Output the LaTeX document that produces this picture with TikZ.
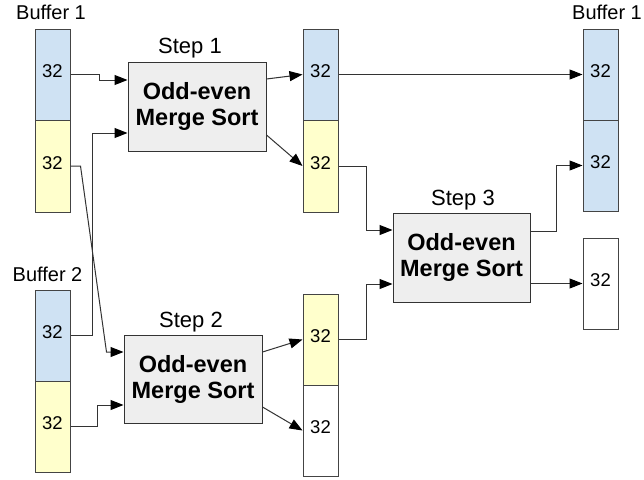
\documentclass[tikz,border=0pt]{standalone}
\usepackage{fontspec}
\setmainfont{Liberation Sans}
\usetikzlibrary{arrows.meta,calc}
\definecolor{cellblue}{HTML}{CFE2F3}
\definecolor{cellyellow}{HTML}{FFFFCC}
\definecolor{boxgray}{HTML}{EEEEEE}
\definecolor{edgegray}{HTML}{444444}
\definecolor{linegray}{HTML}{333333}
\begin{document}
\begin{tikzpicture}[x=1pt,y=-1pt,
  cell/.style={draw=edgegray,line width=1pt,minimum width=35pt,minimum height=91pt,
    inner sep=0pt,text depth=6pt,font=\fontsize{18.5}{21}\selectfont},
  bluecell/.style={cell,fill=cellblue},
  yellowcell/.style={cell,fill=cellyellow},
  whitecell/.style={cell,fill=white},
  sortbox/.style={draw=linegray,line width=1pt,fill=boxgray,minimum width=138pt,
    minimum height=89pt,inner sep=0pt,align=center,
    font=\fontsize{23.5}{26}\selectfont\bfseries},
  steplabel/.style={anchor=base,inner sep=0pt,font=\fontsize{22}{26}\selectfont},
  buflabel/.style={anchor=base,inner sep=0pt,font=\fontsize{20}{24}\selectfont},
  arr/.style={draw=linegray,line width=1pt,-{Triangle[length=13pt,width=10pt,color=black]}}
]
\useasboundingbox[fill=white] (0,0) rectangle (644,479);

% Buffer 1 (left)
\node[buflabel] (lb1) at (51,19) {Buffer 1};
\node[bluecell] (b1a) at (52.5,74.5) {32};
\node[yellowcell,minimum height=92pt] (b1b) at (52.5,166) {32};

% Buffer 2 (left)
\node[buflabel] (lb2) at (47.5,281) {Buffer 2};
\node[bluecell] (b2a) at (52.5,335.5) {32};
\node[yellowcell] (b2b) at (52.5,426.5) {32};

% Middle buffers
\node[bluecell] (m1a) at (320.5,74.5) {32};
\node[yellowcell,minimum height=92pt] (m1b) at (320.5,166) {32};
\node[yellowcell] (m2a) at (320.5,339.5) {32};
\node[whitecell] (m2b) at (320.5,430.5) {32};

% Right buffers
\node[buflabel] (lb3) at (607,19) {Buffer 1};
\node[bluecell] (r1a) at (600.5,74.5) {32};
\node[bluecell] (r1b) at (600.5,165.5) {32};
\node[whitecell] (r2) at (600.5,283.5) {32};

% Sort steps
\node[sortbox] (s1) at (197,106.5) {Odd-even\\Merge Sort};
\node[steplabel] (l1) at (190,53) {Step 1};
\node[sortbox,minimum height=88pt] (s2) at (193,379) {Odd-even\\Merge Sort};
\node[steplabel] (l2) at (191,327) {Step 2};
\node[sortbox,minimum width=137pt] (s3) at (461.5,257.5) {Odd-even\\Merge Sort};
\node[steplabel] (l3) at (463,205) {Step 3};

% Inputs to step 1
\draw[arr] (b1a.east) -- ++(29,0) |- ([yshift=26.5pt]s1.west);
\draw[arr] (b2a.east) -- ++(22,0) |- ([yshift=-26.5pt]s1.west);
% Inputs to step 2
\draw[arr] (b1b.east) -- ++(10,0) -- ([xshift=-17pt,yshift=27pt]s2.west) -- ([yshift=27pt]s2.west);
\draw[arr] (b2b.east) -- ++(27,0) |- ([yshift=-26pt]s2.west);
% Outputs of step 1
\draw[arr] ([yshift=27.5pt]s1.east) -- (m1a.west);
\draw[arr] ([yshift=-28.5pt]s1.east) -- (m1b.west);
% Outputs of step 2
\draw[arr] ([yshift=27pt]s2.east) -- (m2a.west);
\draw[arr] ([yshift=-28pt]s2.east) -- (m2b.west);
% Direct copy
\draw[arr] (m1a.east) -- (r1a.west);
% Inputs to step 3
\draw[arr] (m1b.east) -- ++(28,0) |- ([yshift=27.5pt]s3.west);
\draw[arr] (m2a.east) -- ++(28,0) |- ([yshift=-26.5pt]s3.west);
% Outputs of step 3
\draw[arr] ([yshift=26.5pt]s3.east) -- ++(26,0) |- (r1b.west);
\draw[arr] (s3.east |- r2.west) -- (r2.west);
\end{tikzpicture}
\end{document}
